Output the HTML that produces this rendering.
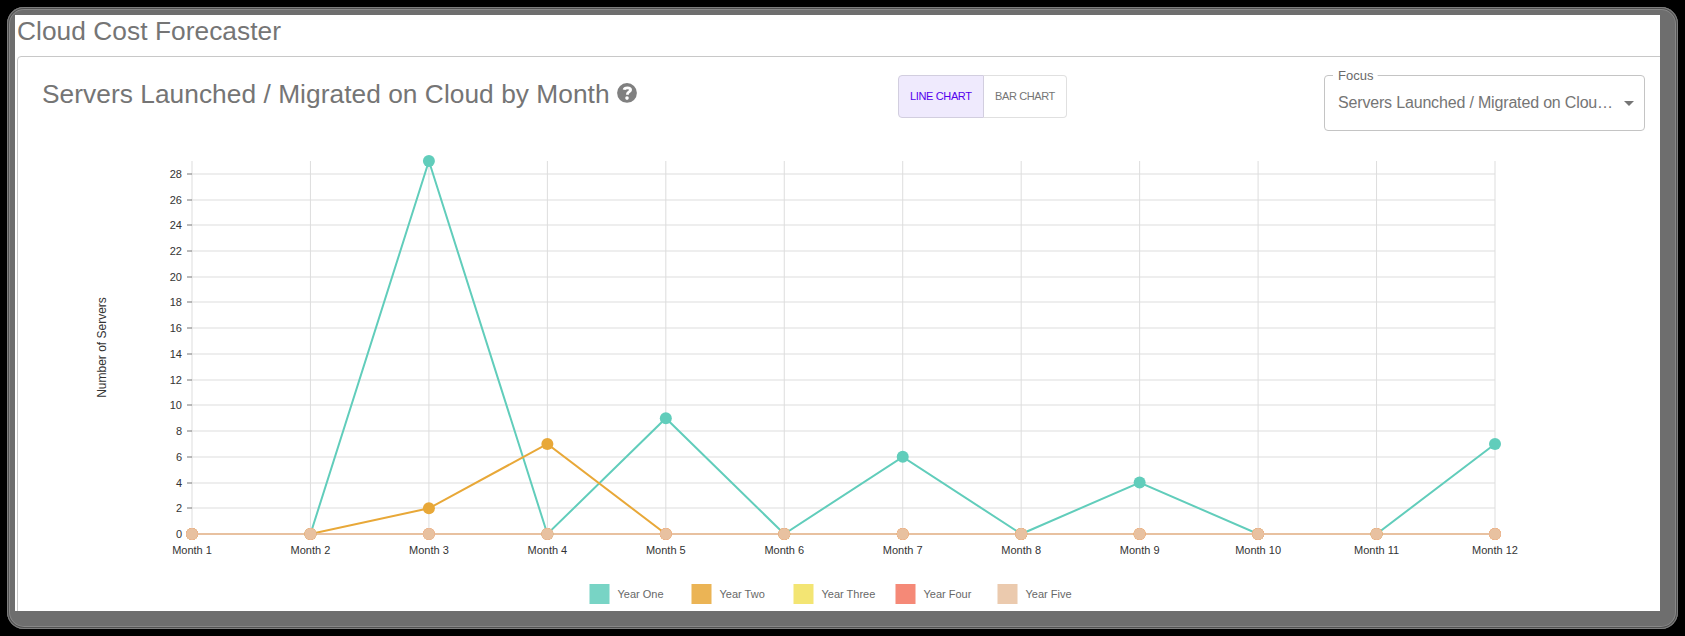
<!DOCTYPE html>
<html><head><meta charset="utf-8"><style>
html,body{margin:0;padding:0;width:1685px;height:636px;overflow:hidden;background:#000;}
body{position:relative;font-family:"Liberation Sans",sans-serif;}
.frame{position:absolute;left:7px;top:7px;width:1671px;height:622px;border-radius:17px;background:#6e6e6e;
 box-shadow:inset 0 0 0 1px #7d7d7d,inset 0 0 0 2px #505050,inset 0 0 0 3px #878787;}
.inner{position:absolute;left:15px;top:15px;width:1645px;height:596px;background:#fff;overflow:hidden;}
.card{position:absolute;left:2px;top:41px;width:1700px;height:700px;border:1px solid #c8c8c8;border-radius:4px;box-sizing:border-box;}
svg.page{position:absolute;left:0;top:0;}
.title{font-size:26.3px;fill:#757575;}
.tk{font-size:11px;fill:#333333;}
.lg{font-size:12px;fill:#333333;}
.lt{font-size:11px;fill:#4d4d4d;}
.btns{position:absolute;left:883px;top:60px;width:169px;height:43px;box-sizing:border-box;}
.b1{position:absolute;left:0;top:0;width:86px;height:43px;box-sizing:border-box;border:1px solid #d2cedf;border-radius:4px 0 0 4px;background:#efeafd;}
.b2{position:absolute;left:86px;top:0;width:83px;height:43px;box-sizing:border-box;border:1px solid #e0e0e0;border-left:none;border-radius:0 4px 4px 0;background:#fff;}
.sel{position:absolute;left:1309px;top:60px;width:321px;height:56px;box-sizing:border-box;border:1px solid #c4c4c4;border-radius:4px;}
.gap{position:absolute;left:1332px;top:58px;width:46px;height:4px;background:#fff;}
</style></head><body>
<div class="frame"></div>
<div class="inner">
  <div class="card"></div>
  <div class="btns"><div class="b1"></div><div class="b2"></div></div>
  <div class="sel"></div>
</div>
<svg class="page" width="1685" height="636" viewBox="0 0 1685 636" font-family="Liberation Sans, sans-serif">
<rect x="1333" y="73" width="44.6" height="5" fill="#fff"/>
<text class="title" x="17" y="40" letter-spacing="0.045">Cloud Cost Forecaster</text>
<text class="title" x="42" y="103" letter-spacing="0.043">Servers Launched / Migrated on Cloud by Month</text>
<g transform="translate(627,92.9)">
  <circle r="9.9" fill="#808080"/>
  <path d="M-2.9,-3.2 C-2.6,-5.0 -1.2,-5.1 0.5,-5.1 C2.3,-5.1 3.6,-4.3 3.6,-3.0 C3.6,-1.3 0.5,-0.9 0.5,0.9 L0.5,1.9" fill="none" stroke="#fff" stroke-width="2.8"/>
  <circle cx="0" cy="5.2" r="1.8" fill="#fff"/>
</g>
<text x="910" y="100" font-size="11" fill="#5500ee" letter-spacing="-0.36">LINE CHART</text>
<text x="995" y="100" font-size="11" fill="#757575" letter-spacing="-0.38">BAR CHART</text>
<text x="1338" y="80" font-size="13" fill="#6a6a6a">Focus</text>
<text x="1338" y="108" font-size="16" fill="#757575" letter-spacing="-0.17">Servers Launched / Migrated on Clou…</text>
<path d="M1624,101 L1634,101 L1629,106 Z" fill="#757575"/>
<g stroke="#dddddd" stroke-width="1" fill="none"><line x1="192.00" y1="161" x2="192.00" y2="534"/><line x1="310.45" y1="161" x2="310.45" y2="534"/><line x1="428.91" y1="161" x2="428.91" y2="534"/><line x1="547.36" y1="161" x2="547.36" y2="534"/><line x1="665.82" y1="161" x2="665.82" y2="534"/><line x1="784.27" y1="161" x2="784.27" y2="534"/><line x1="902.73" y1="161" x2="902.73" y2="534"/><line x1="1021.18" y1="161" x2="1021.18" y2="534"/><line x1="1139.64" y1="161" x2="1139.64" y2="534"/><line x1="1258.09" y1="161" x2="1258.09" y2="534"/><line x1="1376.55" y1="161" x2="1376.55" y2="534"/><line x1="1495.00" y1="161" x2="1495.00" y2="534"/><line x1="192" y1="534" x2="1495" y2="534"/><line x1="192" y1="508" x2="1495" y2="508"/><line x1="192" y1="483" x2="1495" y2="483"/><line x1="192" y1="457" x2="1495" y2="457"/><line x1="192" y1="431" x2="1495" y2="431"/><line x1="192" y1="405" x2="1495" y2="405"/><line x1="192" y1="380" x2="1495" y2="380"/><line x1="192" y1="354" x2="1495" y2="354"/><line x1="192" y1="328" x2="1495" y2="328"/><line x1="192" y1="302" x2="1495" y2="302"/><line x1="192" y1="277" x2="1495" y2="277"/><line x1="192" y1="251" x2="1495" y2="251"/><line x1="192" y1="225" x2="1495" y2="225"/><line x1="192" y1="200" x2="1495" y2="200"/><line x1="192" y1="174" x2="1495" y2="174"/></g>
<g stroke="#777777" stroke-width="1"><line x1="187" y1="534" x2="192" y2="534"/><line x1="187" y1="508" x2="192" y2="508"/><line x1="187" y1="483" x2="192" y2="483"/><line x1="187" y1="457" x2="192" y2="457"/><line x1="187" y1="431" x2="192" y2="431"/><line x1="187" y1="405" x2="192" y2="405"/><line x1="187" y1="380" x2="192" y2="380"/><line x1="187" y1="354" x2="192" y2="354"/><line x1="187" y1="328" x2="192" y2="328"/><line x1="187" y1="302" x2="192" y2="302"/><line x1="187" y1="277" x2="192" y2="277"/><line x1="187" y1="251" x2="192" y2="251"/><line x1="187" y1="225" x2="192" y2="225"/><line x1="187" y1="200" x2="192" y2="200"/><line x1="187" y1="174" x2="192" y2="174"/></g>
<g class="tk"><text x="182" y="538" text-anchor="end">0</text><text x="182" y="512" text-anchor="end">2</text><text x="182" y="487" text-anchor="end">4</text><text x="182" y="461" text-anchor="end">6</text><text x="182" y="435" text-anchor="end">8</text><text x="182" y="409" text-anchor="end">10</text><text x="182" y="384" text-anchor="end">12</text><text x="182" y="358" text-anchor="end">14</text><text x="182" y="332" text-anchor="end">16</text><text x="182" y="306" text-anchor="end">18</text><text x="182" y="281" text-anchor="end">20</text><text x="182" y="255" text-anchor="end">22</text><text x="182" y="229" text-anchor="end">24</text><text x="182" y="204" text-anchor="end">26</text><text x="182" y="178" text-anchor="end">28</text></g>
<g class="tk"><text x="192.00" y="554" text-anchor="middle">Month 1</text><text x="310.45" y="554" text-anchor="middle">Month 2</text><text x="428.91" y="554" text-anchor="middle">Month 3</text><text x="547.36" y="554" text-anchor="middle">Month 4</text><text x="665.82" y="554" text-anchor="middle">Month 5</text><text x="784.27" y="554" text-anchor="middle">Month 6</text><text x="902.73" y="554" text-anchor="middle">Month 7</text><text x="1021.18" y="554" text-anchor="middle">Month 8</text><text x="1139.64" y="554" text-anchor="middle">Month 9</text><text x="1258.09" y="554" text-anchor="middle">Month 10</text><text x="1376.55" y="554" text-anchor="middle">Month 11</text><text x="1495.00" y="554" text-anchor="middle">Month 12</text></g>
<text class="lg" transform="translate(105.8,347.5) rotate(-90)" text-anchor="middle">Number of Servers</text>
<polyline points="192.00,534.00 310.45,534.00 428.91,161.00 547.36,534.00 665.82,418.24 784.27,534.00 902.73,456.83 1021.18,534.00 1139.64,482.55 1258.09,534.00 1376.55,534.00 1495.00,443.97" fill="none" stroke="#61cdbb" stroke-width="2" stroke-linejoin="miter"/>
<polyline points="192.00,534.00 310.45,534.00 428.91,508.28 547.36,443.97 665.82,534.00 784.27,534.00 902.73,534.00 1021.18,534.00 1139.64,534.00 1258.09,534.00 1376.55,534.00 1495.00,534.00" fill="none" stroke="#e8a838" stroke-width="2" stroke-linejoin="miter"/>
<polyline points="192.00,534.00 310.45,534.00 428.91,534.00 547.36,534.00 665.82,534.00 784.27,534.00 902.73,534.00 1021.18,534.00 1139.64,534.00 1258.09,534.00 1376.55,534.00 1495.00,534.00" fill="none" stroke="#f1e15b" stroke-width="2" stroke-linejoin="miter"/>
<polyline points="192.00,534.00 310.45,534.00 428.91,534.00 547.36,534.00 665.82,534.00 784.27,534.00 902.73,534.00 1021.18,534.00 1139.64,534.00 1258.09,534.00 1376.55,534.00 1495.00,534.00" fill="none" stroke="#f47560" stroke-width="2" stroke-linejoin="miter"/>
<polyline points="192.00,534.00 310.45,534.00 428.91,534.00 547.36,534.00 665.82,534.00 784.27,534.00 902.73,534.00 1021.18,534.00 1139.64,534.00 1258.09,534.00 1376.55,534.00 1495.00,534.00" fill="none" stroke="#e8c1a0" stroke-width="2" stroke-linejoin="miter"/>
<g fill="#61cdbb"><circle cx="192.00" cy="534.00" r="6"/><circle cx="310.45" cy="534.00" r="6"/><circle cx="428.91" cy="161.00" r="6"/><circle cx="547.36" cy="534.00" r="6"/><circle cx="665.82" cy="418.24" r="6"/><circle cx="784.27" cy="534.00" r="6"/><circle cx="902.73" cy="456.83" r="6"/><circle cx="1021.18" cy="534.00" r="6"/><circle cx="1139.64" cy="482.55" r="6"/><circle cx="1258.09" cy="534.00" r="6"/><circle cx="1376.55" cy="534.00" r="6"/><circle cx="1495.00" cy="443.97" r="6"/></g>
<g fill="#e8a838"><circle cx="192.00" cy="534.00" r="6"/><circle cx="310.45" cy="534.00" r="6"/><circle cx="428.91" cy="508.28" r="6"/><circle cx="547.36" cy="443.97" r="6"/><circle cx="665.82" cy="534.00" r="6"/><circle cx="784.27" cy="534.00" r="6"/><circle cx="902.73" cy="534.00" r="6"/><circle cx="1021.18" cy="534.00" r="6"/><circle cx="1139.64" cy="534.00" r="6"/><circle cx="1258.09" cy="534.00" r="6"/><circle cx="1376.55" cy="534.00" r="6"/><circle cx="1495.00" cy="534.00" r="6"/></g>
<g fill="#f1e15b"><circle cx="192.00" cy="534.00" r="6"/><circle cx="310.45" cy="534.00" r="6"/><circle cx="428.91" cy="534.00" r="6"/><circle cx="547.36" cy="534.00" r="6"/><circle cx="665.82" cy="534.00" r="6"/><circle cx="784.27" cy="534.00" r="6"/><circle cx="902.73" cy="534.00" r="6"/><circle cx="1021.18" cy="534.00" r="6"/><circle cx="1139.64" cy="534.00" r="6"/><circle cx="1258.09" cy="534.00" r="6"/><circle cx="1376.55" cy="534.00" r="6"/><circle cx="1495.00" cy="534.00" r="6"/></g>
<g fill="#f47560"><circle cx="192.00" cy="534.00" r="6"/><circle cx="310.45" cy="534.00" r="6"/><circle cx="428.91" cy="534.00" r="6"/><circle cx="547.36" cy="534.00" r="6"/><circle cx="665.82" cy="534.00" r="6"/><circle cx="784.27" cy="534.00" r="6"/><circle cx="902.73" cy="534.00" r="6"/><circle cx="1021.18" cy="534.00" r="6"/><circle cx="1139.64" cy="534.00" r="6"/><circle cx="1258.09" cy="534.00" r="6"/><circle cx="1376.55" cy="534.00" r="6"/><circle cx="1495.00" cy="534.00" r="6"/></g>
<g fill="#e8c1a0"><circle cx="192.00" cy="534.00" r="6"/><circle cx="310.45" cy="534.00" r="6"/><circle cx="428.91" cy="534.00" r="6"/><circle cx="547.36" cy="534.00" r="6"/><circle cx="665.82" cy="534.00" r="6"/><circle cx="784.27" cy="534.00" r="6"/><circle cx="902.73" cy="534.00" r="6"/><circle cx="1021.18" cy="534.00" r="6"/><circle cx="1139.64" cy="534.00" r="6"/><circle cx="1258.09" cy="534.00" r="6"/><circle cx="1376.55" cy="534.00" r="6"/><circle cx="1495.00" cy="534.00" r="6"/></g>
<g opacity="0.85"><rect x="589.5" y="584" width="20" height="20" fill="#61cdbb"/><text x="617.5" y="598" class="lt">Year One</text><rect x="691.5" y="584" width="20" height="20" fill="#e8a838"/><text x="719.5" y="598" class="lt">Year Two</text><rect x="793.5" y="584" width="20" height="20" fill="#f1e15b"/><text x="821.5" y="598" class="lt">Year Three</text><rect x="895.5" y="584" width="20" height="20" fill="#f47560"/><text x="923.5" y="598" class="lt">Year Four</text><rect x="997.5" y="584" width="20" height="20" fill="#e8c1a0"/><text x="1025.5" y="598" class="lt">Year Five</text></g>
</svg>
</body></html>
